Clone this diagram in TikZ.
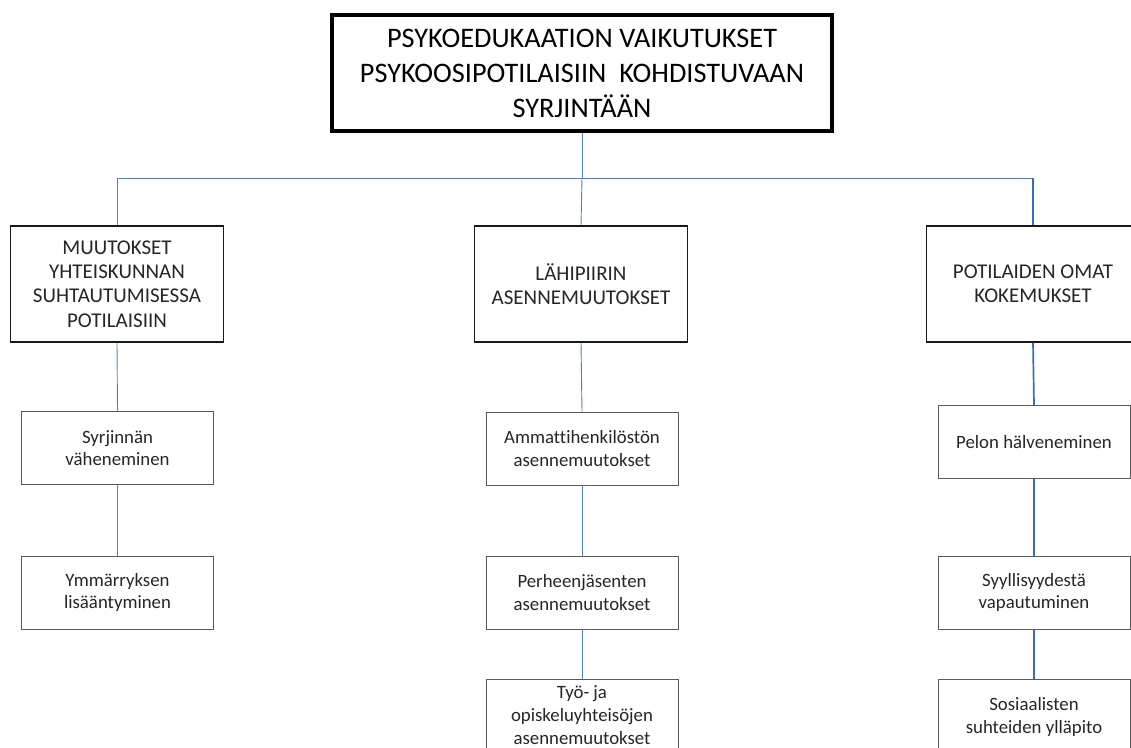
\documentclass[tikz,border=0pt]{standalone}
\usepackage{fontspec}
\setmainfont{Carlito}[Ligatures=NoCommon]
\definecolor{linkblue}{HTML}{4F81BD}
\definecolor{linkdeep}{HTML}{3A6BC0}
\definecolor{boxgray}{HTML}{5A5A5A}
\definecolor{txt}{HTML}{262626}
\tikzset{
  titlebox/.style={draw=black, line width=3.6pt, fill=white, align=center,
    text=black, minimum width=500pt, minimum height=116pt, inner sep=0pt,
    font=\fontsize{28.3}{35}\selectfont},
  groupbox/.style={draw=black!90, line width=1.6pt, fill=white, align=center,
    text=txt, minimum width=213pt, minimum height=116pt, inner sep=0pt,
    font=\fontsize{21}{24.4}\selectfont},
  itembox/.style={draw=boxgray, line width=0.8pt, fill=white, align=center,
    text=txt, minimum width=192pt, minimum height=73pt, inner sep=0pt,
    font=\fontsize{18.8}{22.8}\selectfont},
  link/.style={draw=linkblue, line width=0.9pt},
  linkbold/.style={draw=linkdeep, line width=1.7pt}
}
\begin{document}
\begin{tikzpicture}[x=1pt, y=-1pt]
\clip (0,0) rectangle (1131,747);
\fill[white] (0,0) rectangle (1131,747);

% distribution bus under the title
\coordinate (hub) at (582,178);

\node[titlebox] (top) at (582,73)
  {PSYKOEDUKAATION VAIKUTUKSET\\PSYKOOSIPOTILAISIIN\ \ KOHDISTUVAAN\\SYRJINTÄÄN};

\node[groupbox] (ga) at (117,284)
  {MUUTOKSET\\YHTEISKUNNAN\\SUHTAUTUMISESSA\\POTILAISIIN};
\node[groupbox] (gb) at (581,284) {LÄHIPIIRIN\\ASENNEMUUTOKSET};
\node[groupbox] (gc) at (1033,284) {POTILAIDEN OMAT\\KOKEMUKSET};

\node[itembox] (a1) at (117.5,448) {Syrjinnän\\väheneminen};
\node[itembox] (a2) at (117.5,592.5) {Ymmärryksen\\lisääntyminen};

\node[itembox] (b1) at (582,448.5) {Ammattihenkilöstön\\asennemuutokset};
\node[itembox] (b2) at (582,592.5) {Perheenjäsenten\\asennemuutokset};
\node[itembox, minimum height=72pt] (b3) at (582,715)
  {Työ- ja\\opiskeluyhteisöjen\\asennemuutokset};

\node[itembox] (c1) at (1034,442) {Pelon hälveneminen};
\node[itembox] (c2) at (1034,592.5) {Syyllisyydestä\\vapautuminen};
\node[itembox, minimum height=76pt] (c3) at (1034,717)
  {Sosiaalisten\\suhteiden ylläpito};

% tree connectors
\draw[link] (top.south) -- (hub);
\draw[link] (ga.north) |- (hub);
\draw[link] (hub) -- (hub -| gc.north);
\draw[link] (hub) -- (gb.north);
\draw[linkbold] (hub -| gc.north) -- (gc.north);

\draw[link] (ga.south) -- (a1.north);
\draw[link] (a1.south) -- (a2.north);

\draw[link] (gb.south) -- (b1.north);
\draw[link] (b1.south) -- (b2.north);
\draw[link] (b2.south) -- (b3.north);

\draw[linkbold] (gc.south) -- (c1.north);
\draw[linkbold] (c1.south) -- (c2.north);
\draw[linkbold] (c2.south) -- (c3.north);
\end{tikzpicture}
\end{document}
